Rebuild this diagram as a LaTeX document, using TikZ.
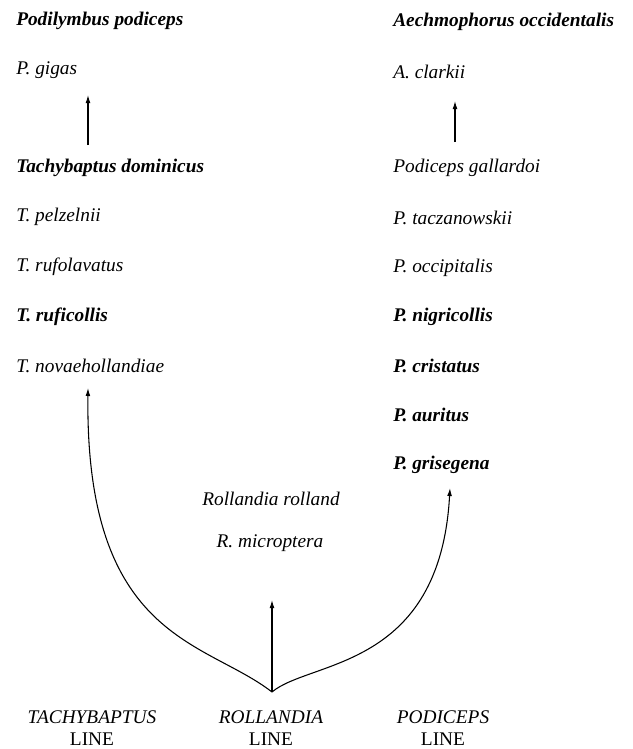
\documentclass[tikz,border=0pt]{standalone}
\usepackage{fontspec}
\setmainfont{Liberation Serif}
\usetikzlibrary{arrows.meta}

\begin{document}
\begin{tikzpicture}[x=0.75pt,y=-0.75pt,
	every node/.style={inner sep=0pt,font=\fontsize{14.5}{16.5}\selectfont},
	taxon/.style={anchor=west,font=\fontsize{14.5}{16.5}\selectfont\itshape},
	keytaxon/.style={anchor=west,font=\fontsize{14.5}{16.5}\selectfont\bfseries\itshape},
	lineage/.style={align=center},
	descent/.style={-{Latex[length=6pt,width=3.6pt]},line width=0.8pt}]
		\useasboundingbox (0,0) rectangle (632,749);
		\draw
		node[keytaxon] (podilymbus) at (16, 21){Podilymbus podiceps}
		node[taxon]    (gigas) at      (16, 70){P. gigas}
		node[keytaxon] (dominicus) at  (16,168){Tachybaptus dominicus}
		node[taxon]    (pelzelnii) at  (16,217){T. pelzelnii}
		node[taxon]    (rufolavatus) at(16,267){T. rufolavatus}
		node[keytaxon] (ruficollis) at (16,317){T. ruficollis}
		node[taxon]    (novaeholl) at  (16,366){T. novaehollandiae};
		\draw
		node[keytaxon] (aechmophorus) at (393, 22){Aechmophorus occidentalis}
		node[taxon]    (clarkii) at      (393, 72){A. clarkii}
		node[taxon]    (gallardoi) at    (393,168){Podiceps gallardoi}
		node[taxon]    (taczanowskii) at (393,218){P. taczanowskii}
		node[taxon]    (occipitalis) at  (393,268){P. occipitalis}
		node[keytaxon] (nigricollis) at  (393,317){P. nigricollis}
		node[keytaxon] (cristatus) at    (393,366){P. cristatus}
		node[keytaxon] (auritus) at      (393,415){P. auritus}
		node[keytaxon] (grisegena) at    (393,465){P. grisegena};
		\draw
		node[font=\fontsize{14.5}{16.5}\selectfont\itshape] (rolland) at (271,499){Rollandia rolland}
		node[font=\fontsize{14.5}{16.5}\selectfont\itshape] (microptera) at (270,543){R. microptera};
		\draw
		node[lineage] (tachyline) at (92,728){\textit{TACHYBAPTUS}\\LINE}
		node[lineage] (rollline) at (271,728){\textit{ROLLANDIA}\\LINE}
		node[lineage] (podiline) at (443,728){\textit{PODICEPS}\\LINE};
		% arrow ends
		\coordinate (gigasin) at (88,95);
		\coordinate (dominicusout) at (88,145);
		\coordinate (clarkiiin) at (455,101);
		\coordinate (gallardoiout) at (455,142);
		\coordinate (fork) at (272,692);
		\coordinate (tachyend) at (88,388);
		\coordinate (rollend) at (272,600);
		\coordinate (podiend) at (450,488);
		\draw [descent] (dominicusout) -- (gigasin);
		\draw [descent] (gallardoiout) -- (clarkiiin);
		\draw [descent] (fork) -- (rollend);
		\draw [descent] (fork) .. controls (205,640) and (85,640) .. (tachyend);
		\draw [descent] (fork) .. controls (310,660) and (440,670) .. (podiend);
		\end{tikzpicture}
\end{document}
